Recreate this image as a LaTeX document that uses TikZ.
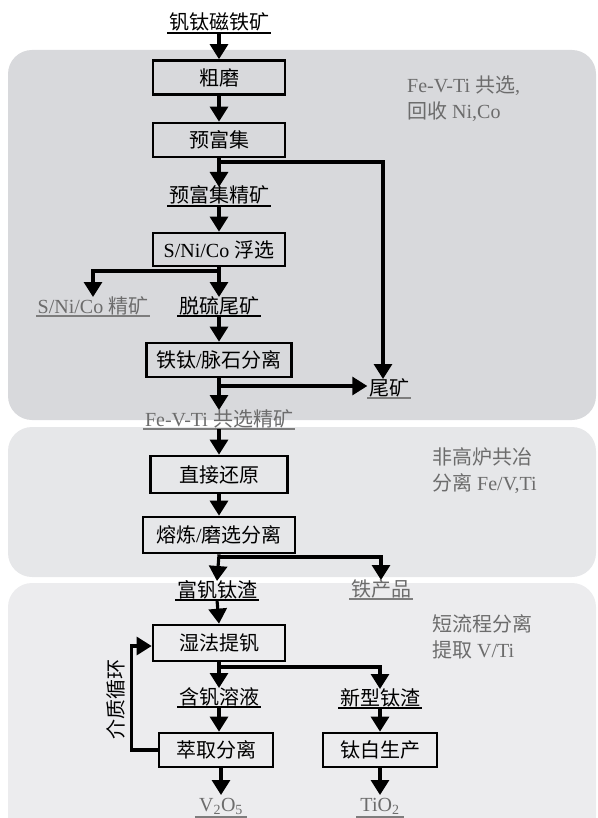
\documentclass[tikz,border=0pt]{standalone}
\usepackage{fontspec}
\setmainfont{Liberation Serif}
\newfontfamily\cjk{Noto Sans CJK SC}
\usetikzlibrary{arrows.meta,calc}
\definecolor{panelA}{RGB}{216,217,220}
\definecolor{panelB}{RGB}{230,231,233}
\definecolor{panelC}{RGB}{236,236,238}
\definecolor{txtgray}{RGB}{108,108,108}
\definecolor{ulgray}{RGB}{125,125,125}
\newcommand\zh[1]{{\cjk #1}}
\begin{document}
\begin{tikzpicture}[x=1pt,y=-1pt,
  font=\fontsize{20}{26}\selectfont,
  proc/.style={draw=black, line width=2.7pt, minimum height=34pt, inner sep=0pt},
  lbl/.style={inner xsep=1.5pt, inner ysep=0.8pt, text height=15pt, text depth=2pt, anchor=south},
  glbl/.style={lbl, text=txtgray},
  arr/.style={line width=3.1pt, -{Triangle[length=15pt,width=18pt]}},
  ulb/.style={line width=1.4pt, draw=black},
  ulg/.style={line width=2.4pt, draw=ulgray},
  note/.style={text=txtgray, align=left, anchor=base west, inner sep=0pt}
]
\useasboundingbox (0,0) rectangle (597,818);
% panels
\fill[panelA, rounded corners=24pt] (8,50) rectangle (596,420);
\fill[panelB, rounded corners=24pt] (8,427) rectangle (596,577);
\fill[panelC, rounded corners=24pt] (8,583) rectangle (596,840);
% notes (anchor = baseline of last line)
\node[note] (n1) at (407,119) {Fe-V-Ti \zh{共选},\\\zh{回收} Ni,Co};
\node[note] (n2) at (432,490) {\zh{非高炉共冶}\\\zh{分离} Fe/V,Ti};
\node[note] (n3) at (432,657) {\zh{短流程分离}\\\zh{提取} V/Ti};
% nodes
\node[lbl] (t0) at (219,33) {\zh{钒钛磁铁矿}};
\node[proc, minimum width=132pt] (b1) at (219,77.5) {\zh{粗磨}};
\node[proc, minimum width=132pt] (b2) at (219,140) {\zh{预富集}};
\node[lbl] (t2) at (219,206) {\zh{预富集精矿}};
\node[proc, minimum width=132pt, minimum height=33pt] (b3) at (219,249.5) {S/Ni/Co \zh{浮选}};
\node[glbl] (t3a) at (93,316) {S/Ni/Co \zh{精矿}};
\node[lbl] (t3b) at (219,316) {\zh{脱硫尾矿}};
\node[proc, minimum width=145pt] (b4) at (219,360) {\zh{铁钛}/\zh{脉石分离}};
\node[lbl] (t4) at (389,398) {\zh{尾矿}};
\node[glbl] (t5) at (219,429) {Fe-V-Ti \zh{共选精矿}};
\node[proc, minimum width=137pt, minimum height=37pt] (b5) at (219,474.5) {\zh{直接还原}};
\node[proc, minimum width=152pt, minimum height=36pt] (b6) at (219,535) {\zh{熔炼}/\zh{磨选分离}};
\node[lbl] (t6a) at (217,600) {\zh{富钒钛渣}};
\node[glbl] (t6b) at (381,599) {\zh{铁产品}};
\node[proc, minimum width=132pt, minimum height=36pt] (b7) at (219,643) {\zh{湿法提钒}};
\node[lbl] (t7a) at (219,707) {\zh{含钒溶液}};
\node[lbl] (t7b) at (380,708) {\zh{新型钛渣}};
\node[proc, minimum width=114pt] (b8) at (216,750) {\zh{萃取分离}};
\node[proc, minimum width=114pt] (b9) at (380,750) {\zh{钛白生产}};
\node[glbl, text depth=5pt, inner xsep=4pt] (t8a) at (221,817) {V\textsubscript{2}O\textsubscript{5}};
\node[glbl, text depth=5pt, inner xsep=4pt] (t8b) at (380,817) {TiO\textsubscript{2}};
\node[rotate=90, inner sep=0pt] (loopt) at (116,699) {\zh{介质循环}};
% underlines
\draw[ulb] (t0.south west) -- (t0.south east);
\draw[ulb] (t2.south west) -- (t2.south east);
\draw[ulg] (t3a.south west) -- (t3a.south east);
\draw[ulb] (t3b.south west) -- (t3b.south east);
\draw[ulg] (t4.south west) -- (t4.south east);
\draw[ulg] (t5.south west) -- (t5.south east);
\draw[ulb] (t6a.south west) -- (t6a.south east);
\draw[ulg] (t6b.south west) -- (t6b.south east);
\draw[ulb] (t7a.south west) -- (t7a.south east);
\draw[ulb] (t7b.south west) -- (t7b.south east);
\draw[ulg] (t8a.south west) -- (t8a.south east);
\draw[ulg] (t8b.south west) -- (t8b.south east);
% branch coordinates
\coordinate (s1) at (219,162);
\coordinate (k1) at (383,162);
\coordinate (s2) at (219,271);
\coordinate (s3) at (219,386);
\coordinate (s4) at (219,557);
\coordinate (s5) at (219,667);
% connectors
\draw[arr] (t0.south) -- (b1.north);
\draw[arr] (b1.south) -- (b2.north);
\draw[arr] (b2.south) -- (t2.north);
\draw[arr] (s1) -| (t4.north -| k1);
\draw[arr] (t2.south) -- (b3.north);
\draw[arr] (b3.south) -- (t3b.north);
\draw[arr] (s2) -| (t3a.north);
\draw[arr] (t3b.south) -- (b4.north);
\draw[arr] (b4.south) -- (t5.north);
\draw[arr] (s3) -- (s3 -| t4.west);
\draw[arr] (t5.south) -- (b5.north);
\draw[arr] (b5.south) -- (b6.north);
\draw[arr] (b6.south) -- (t6a.north);
\draw[arr] (s4) -| (t6b.north);
\draw[arr] (t6a.south) -- (b7.north);
\draw[arr] (b7.south) -- (t7a.north);
\draw[arr] (s5) -| (t7b.north);
\draw[arr] (t7a.south) -- (t7a.south |- b8.north);
\draw[arr] (t7b.south) -- (b9.north);
\draw[arr] (t8a.north |- b8.south) -- (t8a.north);
\draw[arr] (b9.south) -- (t8b.north);
\draw[arr] (b8.west) -| ($(b7.west)+(-20,3)$) -- ($(b7.west)+(0,3)$);
\end{tikzpicture}
\end{document}
